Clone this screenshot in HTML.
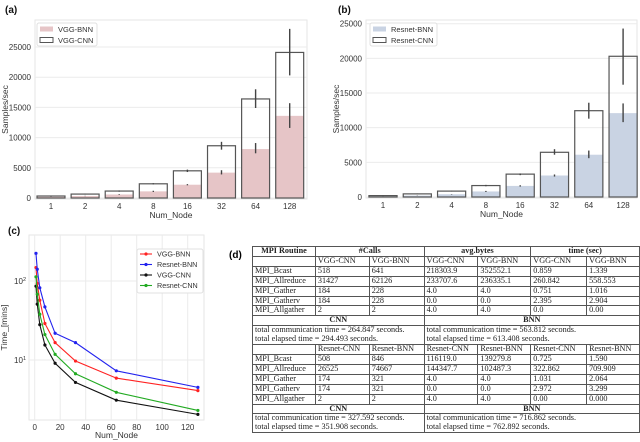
<!DOCTYPE html>
<html><head><meta charset="utf-8"><style>
body{margin:0;width:640px;height:442px;background:#fff;overflow:hidden;position:relative;font-family:"Liberation Sans",sans-serif}
svg{position:absolute;left:0;top:0}
#tbl{position:absolute;left:252px;top:246px;border-collapse:collapse;font-family:"Liberation Serif",serif;font-size:8.2px;color:#222;table-layout:fixed}
#tbl td{border:1px solid #555;height:8.9px;padding:0 2px;line-height:8.9px;white-space:nowrap;overflow:hidden}
#tbl .b{font-weight:bold;text-align:center}
</style></head><body>
<svg id="svg" width="640" height="442"></svg>
<div style="position:absolute;left:229px;top:250px;font-weight:bold;font-size:10px">(d)</div>
<table id="tbl">
<colgroup><col style="width:63px"><col style="width:54px"><col style="width:55px"><col style="width:54px"><col style="width:53px"><col style="width:56px"><col style="width:53px"></colgroup>
<tr><td class="b">MPI Routine</td><td class="b" colspan="2">#Calls</td><td class="b" colspan="2">avg.bytes</td><td class="b" colspan="2">time (sec)</td></tr>
<tr><td></td><td>VGG-CNN</td><td>VGG-BNN</td><td>VGG-CNN</td><td>VGG-BNN</td><td>VGG-CNN</td><td>VGG-BNN</td></tr>
<tr><td>MPI_Bcast</td><td>518</td><td>641</td><td>218303.9</td><td>352552.1</td><td>0.859</td><td>1.339</td></tr>
<tr><td>MPI_Allreduce</td><td>31427</td><td>62126</td><td>233707.6</td><td>236335.1</td><td>260.842</td><td>558.553</td></tr>
<tr><td>MPI_Gather</td><td>184</td><td>228</td><td>4.0</td><td>4.0</td><td>0.751</td><td>1.016</td></tr>
<tr><td>MPI_Gatherv</td><td>184</td><td>228</td><td>0.0</td><td>0.0</td><td>2.395</td><td>2.904</td></tr>
<tr><td>MPI_Allgather</td><td>2</td><td>2</td><td>4.0</td><td>4.0</td><td>0.0</td><td>0.00</td></tr>
<tr><td class="b" colspan="3">CNN</td><td class="b" colspan="4">BNN</td></tr>
<tr><td colspan="3" style="border-bottom:none">total communication time = 264.847 seconds.</td><td colspan="4" style="border-bottom:none">total communication time = 563.812 seconds.</td></tr>
<tr><td colspan="3" style="border-top:none">total elapsed time = 294.493 seconds.</td><td colspan="4" style="border-top:none">total elapsed time = 613.408 seconds.</td></tr>
<tr><td></td><td>Resnet-CNN</td><td>Resnet-BNN</td><td>Resnet-CNN</td><td>Resnet-BNN</td><td>Resnet-CNN</td><td>Resnet-BNN</td></tr>
<tr><td>MPI_Bcast</td><td>508</td><td>846</td><td>116119.0</td><td>139279.8</td><td>0.725</td><td>1.590</td></tr>
<tr><td>MPI_Allreduce</td><td>26525</td><td>74667</td><td>144347.7</td><td>102487.3</td><td>322.862</td><td>709.909</td></tr>
<tr><td>MPI_Gather</td><td>174</td><td>321</td><td>4.0</td><td>4.0</td><td>1.031</td><td>2.064</td></tr>
<tr><td>MPI_Gatherv</td><td>174</td><td>321</td><td>0.0</td><td>0.0</td><td>2.972</td><td>3.299</td></tr>
<tr><td>MPI_Allgather</td><td>2</td><td>2</td><td>4.0</td><td>4.0</td><td>0.00</td><td>0.000</td></tr>
<tr><td class="b" colspan="3">CNN</td><td class="b" colspan="4">BNN</td></tr>
<tr><td colspan="3" style="border-bottom:none">total communication time = 327.592 seconds.</td><td colspan="4" style="border-bottom:none">total communication time = 716.862 seconds.</td></tr>
<tr><td colspan="3" style="border-top:none">total elapsed time = 351.908 seconds.</td><td colspan="4" style="border-top:none">total elapsed time = 762.892 seconds.</td></tr>
</table>
<script>
const nodes = ["1","2","4","8","16","32","64","128"];
const vggCnn = [330,650,1150,2350,4500,8650,16400,24100];
const vggCnnLo = [300,600,1050,2250,4300,8000,14900,20300];
const vggCnnHi = [360,700,1250,2450,4700,9300,18000,28000];
const vggBnn = [200,330,580,1100,2200,4200,8100,13600];
const vggBnnLo = [180,300,520,1000,2100,3900,7400,11600];
const vggBnnHi = [220,360,640,1200,2300,4600,9100,15700];
const resCnn = [200,450,850,1650,3300,6450,12450,20300];
const resCnnLo = [180,420,800,1550,3150,6100,11300,16200];
const resCnnHi = [220,480,900,1750,3400,6900,13600,24300];
const resBnn = [100,200,400,800,1600,3100,6100,12100];
const resBnnLo = [90,180,370,720,1500,2950,5600,10800];
const resBnnHi = [110,220,430,880,1700,3250,6700,13500];
const barTicks = [0,5000,10000,15000,20000,25000];
const lineX = [1,2,4,8,16,32,64,128];
const tVggBnn = [148,93,57,29,16.6,9.7,5.9,4.1];
const tResBnn = [224,141,82,47,21.8,16.6,7.3,4.5];
const tVggCnn = [86,51,28,15.5,9.1,5.2,3.1,2.05];
const tResCnn = [113,68,38,21,11.8,6.7,3.9,2.3];
const lineXTicks = [0,20,40,60,80,100,120];

const NS="http://www.w3.org/2000/svg", svg=document.getElementById('svg');
function mk(t,a,p){const e=document.createElementNS(NS,t);for(const k in a)e.setAttribute(k,a[k]);(p||svg).appendChild(e);return e;}
function txt(x,y,s,o){const e=mk('text',Object.assign({x:x,y:y,'font-size':8,fill:'#333','text-anchor':'middle','font-family':'Liberation Sans, sans-serif'},o||{}));e.textContent=s;return e;}

function barPanel(P){
  const g=mk('g',{});
  
  
  const ys=v=>P.y0-(v/25000)*(P.y0-P.y25);
  const xs=i=>P.x1+i*P.step;
  mk('rect',{x:P.l,y:P.t,width:P.r-P.l,height:P.b-P.t,fill:'#fff',stroke:'#e6e6e6'},g);
  barTicks.forEach(v=>{if(ys(v)<P.t)return;
    mk('line',{x1:P.l,x2:P.r,y1:ys(v),y2:ys(v),stroke:'#ebebeb'},g);
    const t=txt(P.l-4,ys(v)+3,String(v),{'text-anchor':'end'});g.appendChild(t);
    });
  const bw=P.step*0.82;
  nodes.forEach((n,i)=>{
    const b=mk('rect',{x:xs(i)-bw/2,y:ys(P.bnn[i]),width:bw,height:ys(0)-ys(P.bnn[i]),fill:P.col},g);
    
    
    const c=mk('rect',{x:xs(i)-bw/2,y:ys(P.cnn[i]),width:bw,height:ys(0)-ys(P.cnn[i]),fill:'none',stroke:'#555','stroke-width':1.2},g);
    
    
    mk('line',{x1:xs(i),x2:xs(i),y1:ys(P.cLo[i]),y2:ys(P.cHi[i]),stroke:'#444','stroke-width':1.4},g);
    mk('line',{x1:xs(i),x2:xs(i),y1:ys(P.bLo[i]),y2:ys(P.bHi[i]),stroke:'#444','stroke-width':1.4},g);
    const t=txt(xs(i),P.b+10,n);g.appendChild(t);
    
  });
  const xl=txt((P.l+P.r)/2,P.b+19,'Num_Node',{'font-size':8.5});g.appendChild(xl);
  
  const yl=txt(0,0,'Samples/sec',{'font-size':8.5,transform:'translate('+P.ylx+','+((P.t+P.b)/2)+') rotate(-90)'});g.appendChild(yl);
  
  const lg=mk('g',{},g);
  
  mk('rect',{x:P.lx,y:23,width:P.lw,height:23,fill:'#fff',stroke:'#e0e0e0',rx:2},lg);
  mk('rect',{x:P.lx+3,y:26.5,width:13,height:5,fill:P.col},lg);
  mk('rect',{x:P.lx+3,y:37.5,width:13,height:5,fill:'none',stroke:'#555'},lg);
  lg.appendChild(txt(P.lx+21,32,P.l1,{'text-anchor':'start','font-size':7.5}));
  lg.appendChild(txt(P.lx+21,43,P.l2,{'text-anchor':'start','font-size':7.5}));
  const pl=txt(P.px,13,P.lab,{'font-weight':'bold','font-size':10,'text-anchor':'start',fill:'#111'});g.appendChild(pl);
  
}
barPanel({name:'chart-a',l:35,r:307,t:20,b:199,y0:198,y25:47,x1:51,step:34.1,cnn:vggCnn,cLo:vggCnnLo,cHi:vggCnnHi,bnn:vggBnn,bLo:vggBnnLo,bHi:vggBnnHi,col:'#e6c5c7',ylx:8,lx:37,lw:60,l1:'VGG-BNN',l2:'VGG-CNN',px:5,lab:'(a)'});
barPanel({name:'chart-b',l:366,r:637,t:20,b:198,y0:197,y25:23.7,x1:383,step:34.3,cnn:resCnn,cLo:resCnnLo,cHi:resCnnHi,bnn:resBnn,bLo:resBnnLo,bHi:resBnnHi,col:'#c9d3e3',ylx:339,lx:370,lw:67,l1:'Resnet-BNN',l2:'Resnet-CNN',px:338,lab:'(b)'});

(function(){
  const L=29,R=204,T=235,B=420;
  const xs=v=>34.7+v*1.275;
  const ys=v=>360-(Math.log10(v)-1)*79;
  const g=mk('g',{});
  
  
  mk('rect',{x:L,y:T,width:R-L,height:B-T,fill:'#fff',stroke:'#e6e6e6'},g);
  lineXTicks.forEach(v=>{mk('line',{x1:xs(v),x2:xs(v),y1:T,y2:B,stroke:'#ebebeb'},g);
    const t=txt(xs(v),B+10,String(v));g.appendChild(t);
    });
  [10,100].forEach((v,k)=>{mk('line',{x1:L,x2:R,y1:ys(v),y2:ys(v),stroke:'#ebebeb'},g);
    const t=txt(L-3,ys(v)+3,'10',{'text-anchor':'end'});g.appendChild(t);
    const s=mk('tspan',{dy:-3,'font-size':5.5},t);s.textContent=String(k+1);
    });
  const series=[[tVggBnn,'#f22','VGG-BNN'],[tResBnn,'#22e','Resnet-BNN'],[tVggCnn,'#111','VGG-CNN'],[tResCnn,'#2a2','Resnet-CNN']];
  series.forEach(([d,c,n])=>{
    const p=mk('polyline',{points:lineX.map((x,i)=>xs(x)+','+ys(d[i])).join(' '),fill:'none',stroke:c,'stroke-width':1.1},g);
    
    
    lineX.forEach((x,i)=>mk('circle',{cx:xs(x),cy:ys(d[i]),r:1.6,fill:c},g));
  });
  const lg=mk('g',{},g);
  
  mk('rect',{x:137,y:249,width:66,height:44,fill:'#fff',stroke:'#e0e0e0',rx:2},lg);
  series.forEach(([d,c,n],k)=>{const y=254+k*10.5;
    mk('line',{x1:140,x2:152,y1:y,y2:y,stroke:c,'stroke-width':1.1},lg);
    mk('circle',{cx:146,cy:y,r:1.6,fill:c},lg);
    lg.appendChild(txt(157,y+2.7,n,{'text-anchor':'start','font-size':7.2}));});
  const xl=txt((L+R)/2,B+18,'Num_Node',{'font-size':8.5});g.appendChild(xl);
  
  const yl=txt(0,0,'Time_[mins]',{'font-size':8.5,transform:'translate(7,'+((T+B)/2)+') rotate(-90)'});g.appendChild(yl);
  
  const pl=txt(8,234,'(c)',{'font-weight':'bold','font-size':10,'text-anchor':'start',fill:'#111'});g.appendChild(pl);
  
})();
</script>
</body></html>
